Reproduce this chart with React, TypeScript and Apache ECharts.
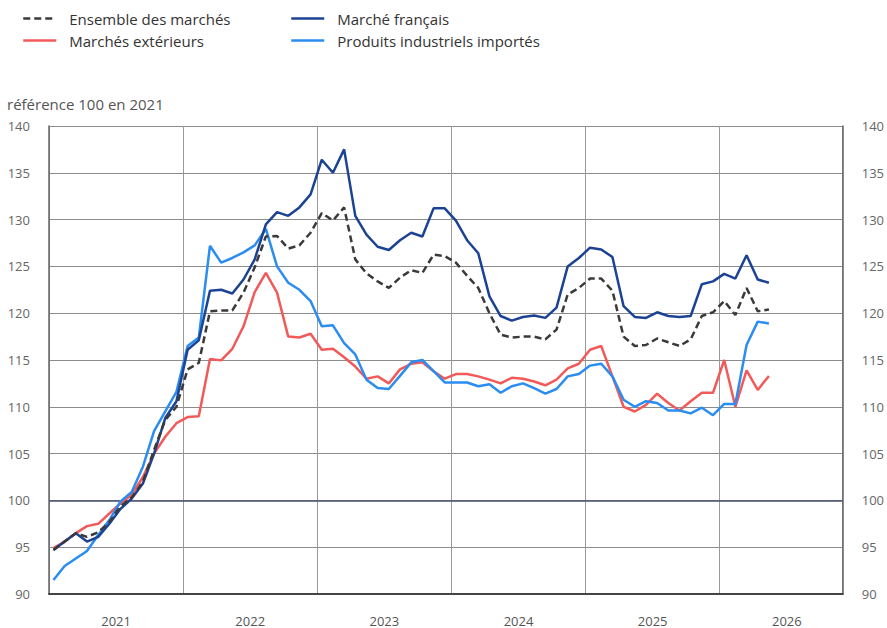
import React, { useEffect, useRef } from "react";
import * as echarts from "echarts";

const seriesNames = [
  "Ensemble des marchés",
  "Marchés extérieurs",
  "Marché français",
  "Produits industriels importés",
];

// Monthly values, Jan 2021 .. May 2026 (index 0 = Jan 2021)
const ensemble = [
  94.7, 95.6, 96.5, 96.1, 96.6, 97.7, 99.4, 100.3, 102.0, 105.4, 108.6, 110.0,
  114.0, 114.7, 120.2, 120.3, 120.3, 122.2, 124.9, 128.2, 128.25, 126.9, 127.25, 128.6,
  130.7, 129.9, 131.3, 125.75, 124.25, 123.4, 122.7, 123.8, 124.6, 124.3, 126.25, 126.1,
  125.4, 124.0, 122.7, 120.0, 117.7, 117.4, 117.5, 117.5, 117.2, 118.25, 122.0, 122.7,
  123.7, 123.7, 122.4, 117.5, 116.5, 116.6, 117.3, 116.9, 116.5, 117.2, 119.7, 120.1,
  121.3, 119.8, 122.7, 120.2, 120.4,
];
const francais = [
  94.7, 95.6, 96.5, 95.6, 96.1, 97.5, 99.1, 100.2, 101.8, 105.0, 108.8, 110.6,
  116.1, 117.1, 122.4, 122.5, 122.1, 123.6, 125.75, 129.5, 130.8, 130.4, 131.3, 132.7,
  136.4, 135.0, 137.5, 130.4, 128.4, 127.1, 126.75, 127.8, 128.6, 128.2, 131.2, 131.2,
  129.9, 127.8, 126.4, 121.8, 119.7, 119.2, 119.6, 119.75, 119.5, 120.6, 125.0, 125.9,
  127.0, 126.8, 126.0, 120.75, 119.6, 119.5, 120.1, 119.7, 119.6, 119.7, 123.1, 123.4,
  124.2, 123.7, 126.2, 123.6, 123.25,
];
const exterieurs = [
  94.9, 95.6, 96.5, 97.25, 97.5, 98.6, 99.7, 100.6, 102.5, 105.0, 106.8, 108.25,
  108.9, 109.0, 115.1, 114.96, 116.2, 118.6, 122.25, 124.3, 122.2, 117.5, 117.4, 117.8,
  116.1, 116.2, 115.3, 114.3, 113.0, 113.25, 112.5, 114.0, 114.6, 114.75, 113.8, 113.0,
  113.5, 113.5, 113.25, 112.9, 112.5, 113.1, 113.0, 112.7, 112.3, 112.9, 114.1, 114.6,
  116.1, 116.5, 113.25, 110.0, 109.5, 110.2, 111.4, 110.4, 109.6, 110.6, 111.5, 111.5,
  115.0, 110.0, 113.9, 111.8, 113.3,
];
const importes = [
  91.5, 93.0, 93.8, 94.6, 96.3, 97.9, 99.9, 100.9, 103.6, 107.4, 109.5, 111.6,
  116.5, 117.4, 127.2, 125.4, 125.9, 126.5, 127.25, 129.0, 125.0, 123.25, 122.5, 121.3,
  118.6, 118.7, 116.8, 115.6, 112.9, 112.0, 111.9, 113.3, 114.75, 115.0, 113.8, 112.6,
  112.6, 112.6, 112.2, 112.4, 111.5, 112.2, 112.5, 112.0, 111.4, 111.9, 113.25, 113.5,
  114.4, 114.6, 113.25, 110.75, 110.0, 110.6, 110.4, 109.6, 109.6, 109.3, 109.9, 109.1,
  110.3, 110.3, 116.6, 119.1, 118.9,
];

const yearLabels = ["2021", "2022", "2023", "2024", "2025", "2026"];
const yTicks = [90, 95, 100, 105, 110, 115, 120, 125, 130, 135, 140];

const colors = {
  ensemble: "#3a3a3a",
  exterieurs: "#f25a5a",
  francais: "#1c4393",
  importes: "#2b8cf2",
};

const toPoints = (arr: number[]) => arr.map((v, i) => [i + 0.4, v]);

export default function App() {
  const ref = useRef<HTMLDivElement>(null);
  useEffect(() => {
    if (!ref.current) return;
    const chart = echarts.init(ref.current, null, { renderer: "svg" });
    const font = "'Open Sans', 'Noto Sans', sans-serif";
    const yAxisBase = {
      type: "value",
      min: yTicks[0],
      max: yTicks[yTicks.length - 1],
      interval: 5,
      axisTick: { show: false },
      axisLine: { show: true, lineStyle: { color: "#666", width: 1.5 } },
      axisLabel: { color: "#666", fontSize: 13, fontFamily: font, margin: 19 },
    };
    const mk = (name: string, data: number[], color: string, dashed = false) => ({
      name,
      type: "line",
      data: toPoints(data),
      showSymbol: false,
      symbol: "none",
      lineStyle: { color, width: 2.5, type: dashed ? [7, 4] : "solid" },
      itemStyle: { color },
      z: 3,
    });
    const legendBase = {
      orient: "vertical",
      top: 11,
      padding: 0,
      itemWidth: 33,
      itemHeight: 14,
      itemGap: 7,
      selectedMode: false,
      itemStyle: { opacity: 0 },
      lineStyle: { width: 2.5 },
      textStyle: { color: "#333", fontSize: 15, fontFamily: font, padding: [0, 0, 0, 8] },
    };
    chart.setOption({
      animation: false,
      textStyle: { fontFamily: font },
      title: {
        text: "référence 100 en 2021",
        left: 2,
        top: 91,
        textStyle: { color: "#555", fontSize: 15, fontWeight: "normal", fontFamily: font },
      },
      legend: [
        { ...legendBase, data: [seriesNames[0], seriesNames[1]], left: 22 },
        { ...legendBase, data: [seriesNames[2], seriesNames[3]], left: 290 },
      ],
      grid: { left: 49, right: 42, top: 126, bottom: 34, containLabel: false },
      xAxis: {
        type: "value",
        min: 0,
        max: 71,
        interval: 12,
        axisLine: { show: true, lineStyle: { color: "#444", width: 2 } },
        axisTick: { show: false },
        splitLine: { show: true, lineStyle: { color: "#999", width: 1 } },
        axisLabel: {
          color: "#555",
          fontSize: 13,
          fontFamily: font,
          margin: 20,
          customValues: [6, 18, 30, 42, 54, 66],
          formatter: (v: number) => yearLabels[Math.round((v - 6) / 12)] ?? "",
        },
      },
      yAxis: [
        {
          ...yAxisBase,
          position: "left",
          splitLine: { show: true, lineStyle: { color: "#8c8c8c", width: 1 } },
        },
        {
          ...yAxisBase,
          position: "right",
          splitLine: { show: false },
        },
      ],
      series: [
        {
          ...mk(seriesNames[1], exterieurs, colors.exterieurs),
          markLine: {
            silent: true,
            symbol: "none",
            label: { show: false },
            lineStyle: { color: "#4a5075", width: 1.5, type: "solid" },
            data: [{ yAxis: 100 }],
            z: 1,
          },
        },
        mk(seriesNames[3], importes, colors.importes),
        mk(seriesNames[2], francais, colors.francais),
        mk(seriesNames[0], ensemble, colors.ensemble, true),
      ],
    });
    return () => chart.dispose();
  }, []);
  return <div ref={ref} style={{ width: 887, height: 628, position: "absolute", left: 0, top: 0 }} />;
}
